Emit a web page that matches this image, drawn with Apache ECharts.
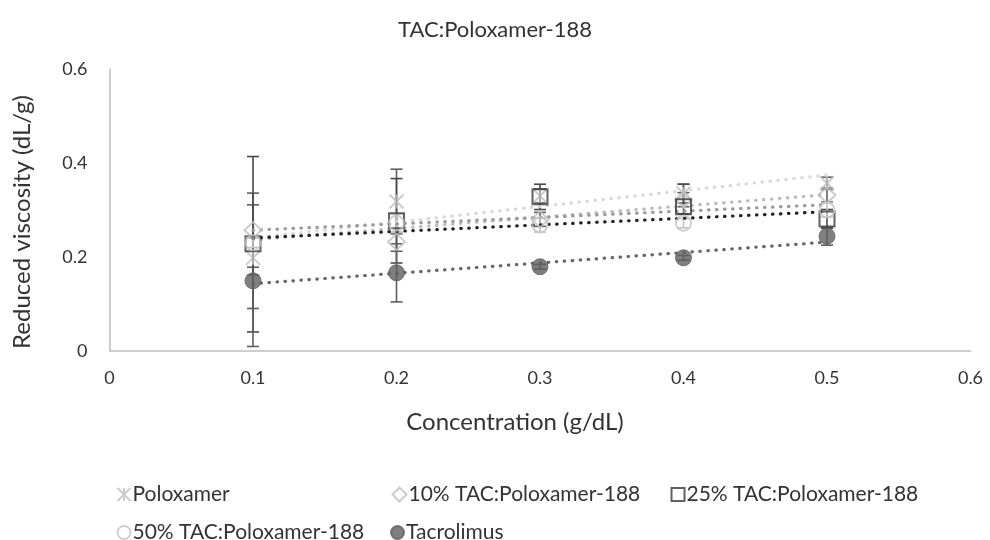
<!DOCTYPE html>
<html>
<head>
<meta charset="utf-8">
<script src="https://cdn.jsdelivr.net/npm/echarts@6/dist/echarts.min.js"></script>
<style>
html,body{margin:0;padding:0;background:#fff;}
#chart{width:990px;height:540px;}
</style>
</head>
<body>
<div id="chart"></div>
<script>
// ---- data ----
const concentrations = [0.1, 0.2, 0.3, 0.4, 0.5];
const seriesNames = ['Poloxamer', '10% TAC:Poloxamer-188', '25% TAC:Poloxamer-188', '50% TAC:Poloxamer-188', 'Tacrolimus'];
const poloxamer  = [0.198, 0.318, 0.330, 0.335, 0.357];
const tac10      = [0.257, 0.232, 0.280, 0.322, 0.332];
const tac25      = [0.228, 0.277, 0.328, 0.307, 0.281];
const tac50      = [0.230, 0.272, 0.268, 0.272, 0.300];
const tacrolimus = [0.149, 0.166, 0.179, 0.198, 0.244];
// error bar half-widths (minus / plus)
const poloxamerErrMinus  = [0.108, 0.069, 0.015, 0.020, 0.013];
const poloxamerErrPlus   = [0.113, 0.069, 0.015, 0.020, 0.013];
const tac10ErrMinus      = [0.079, 0.020, 0.015, 0.015, 0.015];
const tac10ErrPlus       = [0.079, 0.020, 0.015, 0.015, 0.015];
const tac25ErrMinus      = [0.188, 0.090, 0.027, 0.015, 0.020];
const tac25ErrPlus       = [0.186, 0.090, 0.027, 0.048, 0.020];
const tac50ErrMinus      = [0.010, 0.020, 0.015, 0.010, 0.015];
const tac50ErrPlus       = [0.010, 0.020, 0.015, 0.010, 0.015];
const tacrolimusErrMinus = [0.140, 0.062, 0.005, 0.005, 0.019];
const tacrolimusErrPlus  = [0.012, 0.062, 0.005, 0.005, 0.019];
const xTicks = ['0', '0.1', '0.2', '0.3', '0.4', '0.5', '0.6'];
const yTicks = ['0', '0.2', '0.4', '0.6'];

const values = [poloxamer, tac10, tac25, tac50, tacrolimus];
const errMinus = [poloxamerErrMinus, tac10ErrMinus, tac25ErrMinus, tac50ErrMinus, tacrolimusErrMinus];
const errPlus = [poloxamerErrPlus, tac10ErrPlus, tac25ErrPlus, tac50ErrPlus, tacrolimusErrPlus];

// ---- styles ----
const FONT = 'Lato';
const TXT = '#333333';
const xPath = 'path://M0,0L10,10M10,0L0,10M5,0L5,10';
const markerStyles = [
  {symbol: xPath, size: 14, item: {color: 'none', borderColor: '#bfbfbf', borderWidth: 2}},
  {symbol: 'diamond', size: [17, 16], item: {color: 'none', borderColor: '#bfbfbf', borderWidth: 2}},
  {symbol: 'rect', size: 15, item: {color: 'none', borderColor: '#3a3a3a', borderWidth: 2}},
  {symbol: 'circle', size: 15, item: {color: 'none', borderColor: '#c4c4c4', borderWidth: 2}},
  {symbol: 'circle', size: 16, item: {color: '#5f5f5f', borderColor: '#5f5f5f', borderWidth: 1}}
];
const legendIconSizes = [13, 14, 13, 13, 13];
const trendColors = ['#d9d9d9', '#bdbdbd', '#9a9a9a', '#222222', '#666666'];
const errColors = ['#5f5f5f', '#5f5f5f', '#4a4a4a', '#c4c4c4', '#5f5f5f'];

function linReg(xs, ys) {
  const n = xs.length;
  const mx = xs.reduce((a, b) => a + b, 0) / n;
  const my = ys.reduce((a, b) => a + b, 0) / n;
  let sxy = 0, sxx = 0;
  for (let i = 0; i < n; i++) { sxy += (xs[i] - mx) * (ys[i] - my); sxx += (xs[i] - mx) ** 2; }
  const b = sxy / sxx;
  return {a: my - b * mx, b: b};
}

const series = [];
values.forEach((vals, si) => {
  series.push({
    name: seriesNames[si] + ' err',
    type: 'custom',
    z: 2,
    silent: true,
    data: concentrations.map((x, i) => [x, vals[i] - errMinus[si][i], vals[i] + errPlus[si][i]]),
    renderItem: function (params, api) {
      const x = api.value(0);
      const lo = api.coord([x, api.value(1)]);
      const hi = api.coord([x, api.value(2)]);
      const hw = 6;
      const st = {stroke: errColors[si], lineWidth: 1.6};
      return {
        type: 'group',
        children: [
          {type: 'line', shape: {x1: lo[0], y1: lo[1], x2: hi[0], y2: hi[1]}, style: st},
          {type: 'line', shape: {x1: lo[0] - hw, y1: lo[1], x2: lo[0] + hw, y2: lo[1]}, style: st},
          {type: 'line', shape: {x1: hi[0] - hw, y1: hi[1], x2: hi[0] + hw, y2: hi[1]}, style: st}
        ]
      };
    }
  });
});
values.forEach((vals, si) => {
  const r = linReg(concentrations, vals);
  const x0 = concentrations[0], x1 = concentrations[concentrations.length - 1];
  series.push({
    name: seriesNames[si] + ' trend',
    type: 'line',
    z: 3,
    silent: true,
    symbol: 'none',
    data: [[x0, r.a + r.b * x0], [x1, r.a + r.b * x1]],
    lineStyle: {color: trendColors[si], width: 3.2, type: [0.5, 7.5], cap: 'round'}
  });
});
values.forEach((vals, si) => {
  const m = markerStyles[si];
  series.push({
    name: seriesNames[si],
    type: 'scatter',
    z: 4,
    symbol: m.symbol,
    symbolSize: m.size,
    itemStyle: m.item,
    data: concentrations.map((x, i) => [x, vals[i]])
  });
});

const legendPos = [
  {left: 110, top: 479},
  {left: 385, top: 479},
  {left: 664, top: 479},
  {left: 110, top: 517},
  {left: 385, top: 517}
];
const legends = seriesNames.map((n, i) => ({
  data: [n],
  left: legendPos[i].left,
  top: legendPos[i].top,
  itemWidth: legendIconSizes[i],
  itemHeight: legendIconSizes[i],
  selectedMode: false,
  textStyle: {fontFamily: FONT, fontSize: 21, color: TXT, padding: [0, 0, 0, -3]}
}));

const chart = echarts.init(document.getElementById('chart'), null, {renderer: 'canvas'});
chart.setOption({
  backgroundColor: '#ffffff',
  animation: false,
  title: {
    text: 'TAC:Poloxamer-188',
    left: 'center',
    top: 14,
    textStyle: {fontFamily: FONT, fontSize: 22, fontWeight: 'normal', color: TXT}
  },
  legend: legends,
  grid: {left: 109.5, right: 19.5, top: 69.3, bottom: 189.3, containLabel: false},
  xAxis: {
    type: 'value',
    min: 0, max: 0.6, interval: 0.1,
    name: 'Concentration (g/dL)',
    nameLocation: 'middle',
    nameGap: 60,
    nameTextStyle: {fontFamily: FONT, fontSize: 24, color: TXT, padding: [0, 50, 0, 0]},
    axisLine: {show: true, lineStyle: {color: '#bfbfbf', width: 1.5}},
    axisTick: {show: false},
    splitLine: {show: false},
    axisLabel: {
      fontFamily: FONT, fontSize: 18, color: TXT, margin: 18,
      formatter: function (v) { return xTicks[Math.round(v * 10)]; }
    }
  },
  yAxis: {
    type: 'value',
    min: 0, max: 0.6, interval: 0.2,
    name: 'Reduced viscosity (dL/g)',
    nameLocation: 'middle',
    nameGap: 75,
    nameRotate: 90,
    nameTextStyle: {fontFamily: FONT, fontSize: 24, color: TXT, padding: [0, 24, 0, 0]},
    axisLine: {show: true, lineStyle: {color: '#bfbfbf', width: 1.5}},
    axisTick: {show: false},
    splitLine: {show: false},
    axisLabel: {
      fontFamily: FONT, fontSize: 18, color: TXT, margin: 22,
      formatter: function (v) { return yTicks[Math.round(v * 5)]; }
    }
  },
  series: series
});
</script>
</body>
</html>
